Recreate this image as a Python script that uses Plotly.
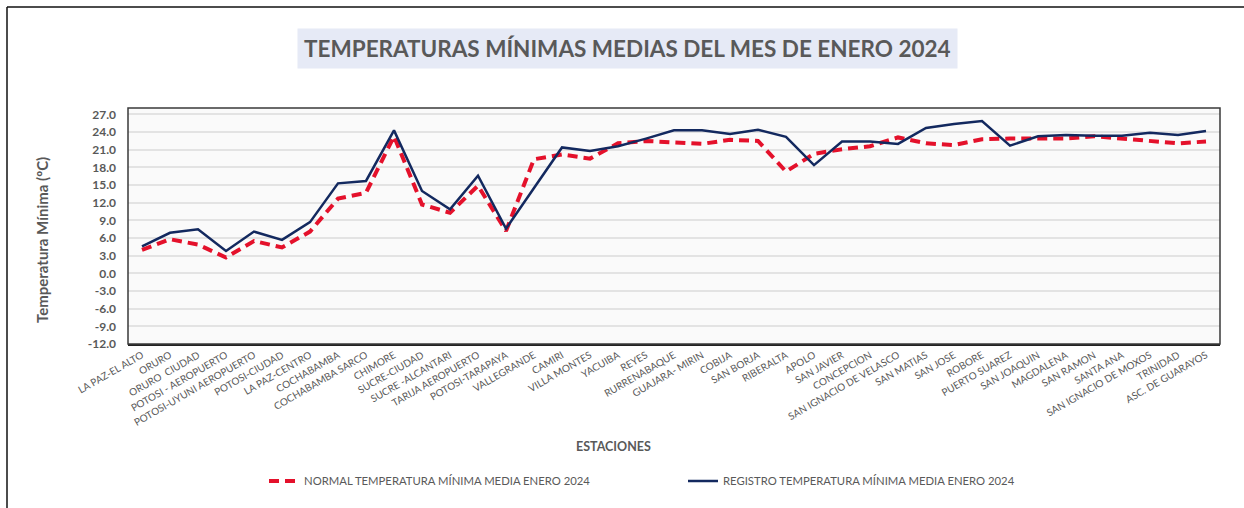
import plotly.graph_objects as go

estaciones = [
    "LA PAZ-EL ALTO", "ORURO", "ORURO  CIUDAD", "POTOSI - AEROPUERTO",
    "POTOSI-UYUNI AEROPUERTO", "POTOSI-CIUDAD", "LA PAZ-CENTRO", "COCHABAMBA",
    "COCHABAMBA SARCO", "CHIMORE", "SUCRE-CIUDAD", "SUCRE -ALCANTARI",
    "TARIJA AEROPUERTO", "POTOSI-TARAPAYA", "VALLEGRANDE", "CAMIRI",
    "VILLA MONTES", "YACUIBA", "REYES", "RURRENABAQUE", "GUAJARA- MIRIN",
    "COBIJA", "SAN BORJA", "RIBERALTA", "APOLO", "SAN JAVIER", "CONCEPCION",
    "SAN IGNACIO DE VELASCO", "SAN MATIAS", "SAN JOSE", "ROBORE",
    "PUERTO SUAREZ", "SAN JOAQUIN", "MAGDALENA", "SAN RAMON", "SANTA ANA",
    "SAN IGNACIO DE MOXOS", "TRINIDAD", "ASC. DE GUARAYOS",
]

normal = [
    4.0, 5.8, 4.9, 2.7, 5.5, 4.4, 7.1, 12.7, 13.7, 23.3,
    11.7, 10.3, 14.9, 7.2, 19.4, 20.2, 19.5, 22.1, 22.5, 22.2,
    22.0, 22.7, 22.5, 17.3, 20.3, 21.1, 21.6, 23.1, 22.1, 21.8,
    22.8, 22.9, 22.9, 22.9, 23.3, 22.9, 22.5, 22.1, 22.4,
]

registro = [
    4.6, 6.9, 7.5, 3.8, 7.1, 5.7, 8.7, 15.3, 15.7, 24.3,
    14.0, 10.9, 16.6, 7.6, 14.5, 21.4, 20.8, 21.6, 22.9, 24.3,
    24.3, 23.7, 24.4, 23.2, 18.4, 22.4, 22.4, 22.0, 24.7, 25.4,
    25.9, 21.7, 23.3, 23.5, 23.4, 23.4, 23.9, 23.5, 24.2,
]

y_ticks = [-12, -9, -6, -3, 0, 3, 6, 9, 12, 15, 18, 21, 24, 27]
y_tick_labels = ["-12.0", "-9.0", "-6.0", "-3.0", "0.0", "3.0", "6.0",
                 "9.0", "12.0", "15.0", "18.0", "21.0", "24.0", "27.0"]

titulo = "TEMPERATURAS MÍNIMAS MEDIAS DEL MES DE ENERO 2024"
titulo_y = "Temperatura Mínima (ºC)"
titulo_x = "ESTACIONES"
nombre_normal = "NORMAL TEMPERATURA MÍNIMA MEDIA ENERO 2024"
nombre_registro = "REGISTRO TEMPERATURA MÍNIMA MEDIA ENERO 2024"

W, H = 1244, 508
L, R, T, B = 128, 24, 108, 164
PW, PH = W - L - R, H - T - B


def px(x):
    return (x - L) / PW


def py(y):
    return (H - B - y) / PH


FONT = "Lato, 'Open Sans', sans-serif"
GREY = "#595959"

fig = go.Figure()
fig.add_trace(go.Scatter(
    x=estaciones, y=normal, mode="lines", name=nombre_normal,
    line=dict(color="#e4112b", width=4, dash="10px,6px"),
))
fig.add_trace(go.Scatter(
    x=estaciones, y=registro, mode="lines", name=nombre_registro,
    line=dict(color="#13295f", width=2.5),
))

fig.update_layout(
    width=W, height=H,
    margin=dict(l=L, r=R, t=T, b=B, pad=0),
    paper_bgcolor="white",
    plot_bgcolor="#fafafa",
    font=dict(family=FONT, color=GREY),
    showlegend=True,
    legend=dict(
        orientation="h", x=px(264), y=py(481), xanchor="left", yanchor="middle",
        entrywidth=374, entrywidthmode="pixels", itemwidth=30,
        font=dict(size=11.3, color=GREY, family=FONT), bgcolor="rgba(0,0,0,0)",
        tracegroupgap=0,
    ),
    xaxis=dict(
        type="category", tickangle=-30, tickfont=dict(size=10, color=GREY, family=FONT),
        showgrid=False, showline=True, linecolor="#222222", linewidth=1.5,
        mirror=False, ticks="", range=[-0.5, len(estaciones) - 0.5],
    ),
    yaxis=dict(
        range=[-12, 28.1], tickvals=y_ticks,
        ticktext=["<b>" + t + "</b>" for t in y_tick_labels],
        tickfont=dict(size=12, color=GREY, family=FONT),
        showgrid=True, gridcolor="#e3e3e3", gridwidth=2,
        zeroline=False, showline=False, ticks="", ticklabelstandoff=11,
    ),
    shapes=[
        dict(type="rect", xref="paper", yref="paper", x0=0, x1=1, y0=0, y1=1,
             line=dict(color="#3a3a3a", width=1.5), layer="above"),
        dict(type="line", xref="paper", yref="paper", x0=px(7), x1=px(1244),
             y0=py(7), y1=py(7), line=dict(color="#111111", width=1.5)),
        dict(type="line", xref="paper", yref="paper", x0=px(7), x1=px(7),
             y0=py(7), y1=py(508), line=dict(color="#111111", width=1.5)),
    ],
    annotations=[
        dict(text="<b>" + titulo + "</b>", xref="paper", yref="paper",
             x=px(627), y=py(48), xanchor="center", yanchor="middle",
             showarrow=False, bgcolor="#e6eaf6", borderpad=6,
             font=dict(size=22.5, color=GREY, family=FONT)),
        dict(text="<b>" + titulo_y + "</b>", xref="paper", yref="paper",
             x=px(42), y=py(240), xanchor="center", yanchor="middle",
             textangle=-90, showarrow=False,
             font=dict(size=15, color=GREY, family=FONT)),
        dict(text="<b>" + titulo_x + "</b>", xref="paper", yref="paper",
             x=px(613), y=py(446), xanchor="center", yanchor="middle",
             showarrow=False, font=dict(size=12.5, color=GREY, family=FONT)),
    ],
)

fig.write_html("out.html", config={"displayModeBar": False},
               post_script="document.body.style.margin='0';")
